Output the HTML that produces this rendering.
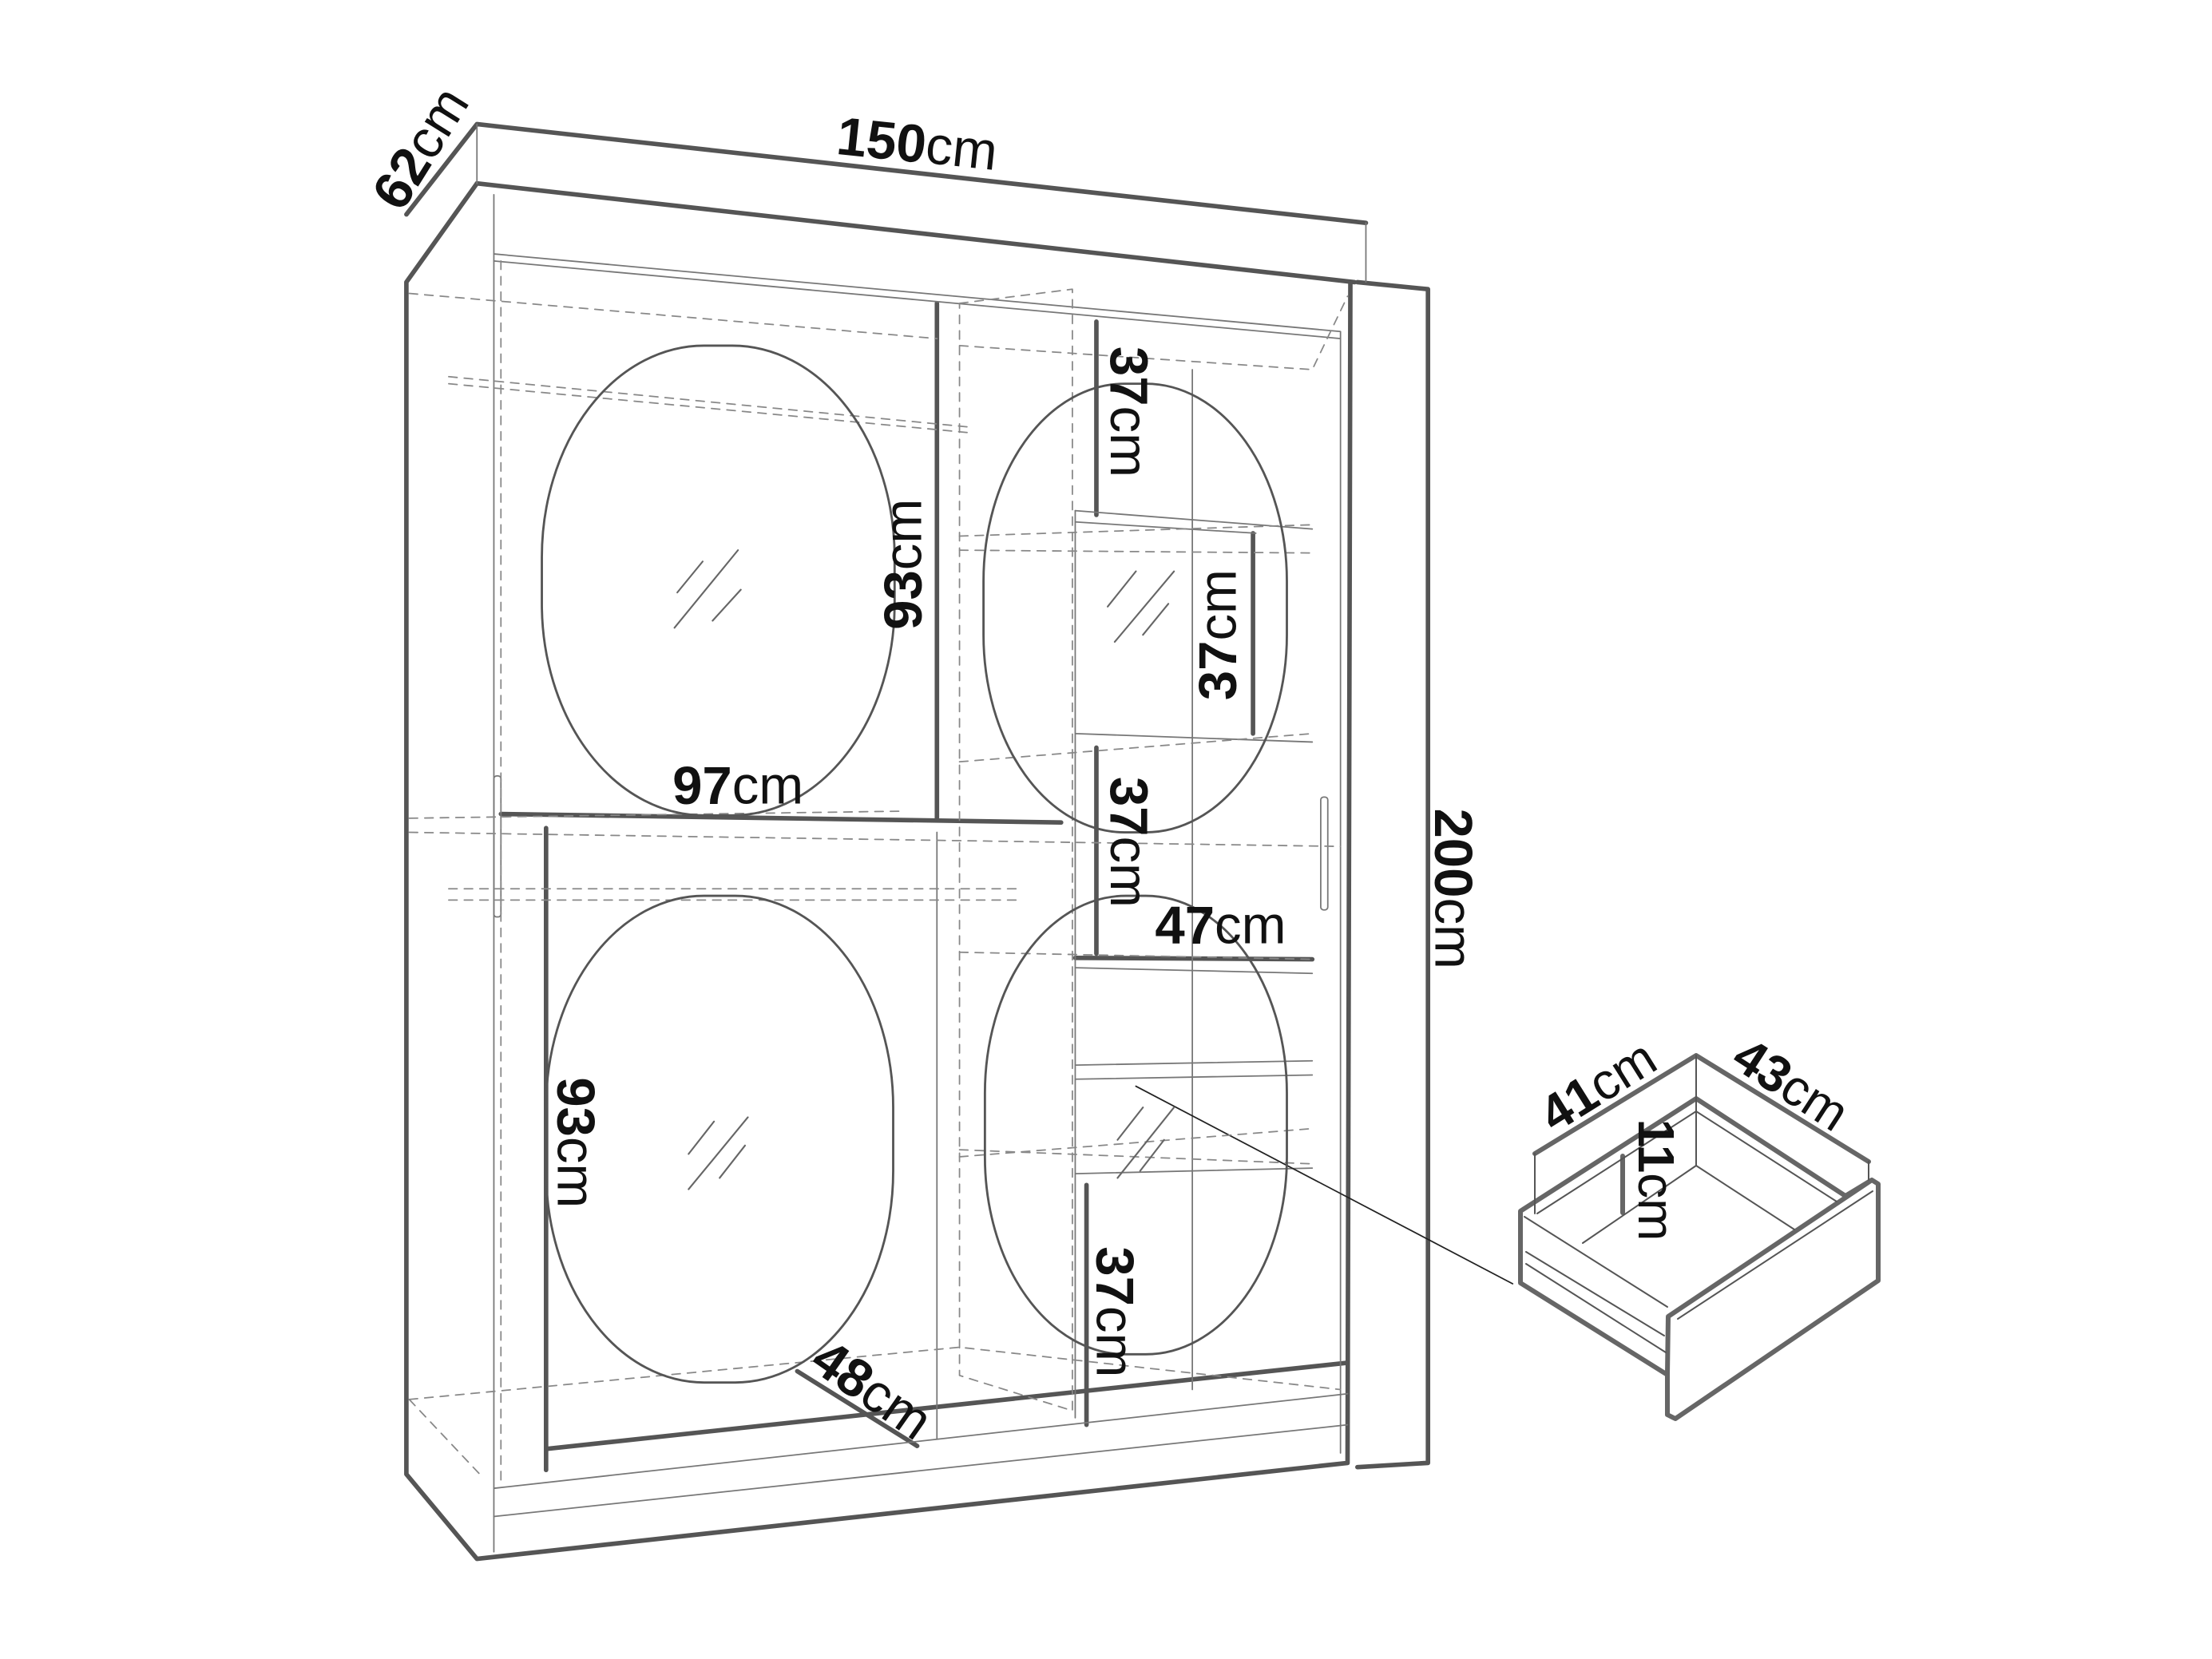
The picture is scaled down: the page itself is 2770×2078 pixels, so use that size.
<!DOCTYPE html>
<html><head><meta charset="utf-8"><style>
html,body{margin:0;padding:0;background:#fff}
svg{display:block}
text{font-family:"Liberation Sans",sans-serif;fill:#111}
.b{font-weight:bold}
</style></head><body>
<svg width="2770" height="2078" viewBox="0 0 2770 2078" xmlns="http://www.w3.org/2000/svg">
<g transform="scale(1.767)" fill="none" stroke-linecap="round" stroke-linejoin="round">
<g stroke="#555" stroke-width="3.2">
<polyline points="288,152 338,88 968,158"/>
<polyline points="338,130 960,200"/>
<polyline points="338,130 288,200 288,1045 338,1105 955,1037 957,200"/>
<polyline points="962,200 1012,205 1012,1037 962,1040"/>
<line x1="664" y1="215" x2="664" y2="580"/>
<line x1="355" y1="577" x2="752" y2="583"/>
<line x1="777" y1="228" x2="777" y2="365"/>
<line x1="888" y1="378" x2="888" y2="520"/>
<line x1="777" y1="530" x2="777" y2="676"/>
<line x1="762" y1="679" x2="930" y2="680"/>
<line x1="770" y1="840" x2="770" y2="1010"/>
<line x1="387" y1="587" x2="387" y2="1042"/>
<line x1="565" y1="972" x2="650" y2="1025"/>
<line x1="388" y1="1027" x2="955" y2="966"/>
</g>
<g stroke="#777" stroke-width="1">
<line x1="338" y1="88" x2="338" y2="130"/>
<line x1="968" y1="158" x2="968" y2="200"/>
<line x1="350" y1="138" x2="350" y2="1100"/>
<polyline points="350,180 950,235 950,1030"/>
<line x1="350" y1="185" x2="950" y2="240"/>
<line x1="350" y1="1055" x2="955" y2="988"/>
<line x1="350" y1="1075" x2="955" y2="1010"/>
<line x1="762" y1="362" x2="930" y2="375"/>
<line x1="762" y1="370" x2="890" y2="378"/>
<line x1="762" y1="520" x2="930" y2="526"/>
<line x1="762" y1="686" x2="930" y2="690"/>
<line x1="762" y1="755" x2="930" y2="752"/>
<line x1="762" y1="765" x2="930" y2="762"/>
<line x1="762" y1="832" x2="930" y2="828"/>
<line x1="762" y1="362" x2="762" y2="1005"/>
<line x1="845" y1="262" x2="845" y2="985"/>
<line x1="664" y1="590" x2="664" y2="1020"/>
<rect x="350" y="550" width="5" height="100" rx="2"/>
<rect x="936" y="565" width="5" height="80" rx="2"/>
<line x1="805" y1="770" x2="1072" y2="910" stroke="#222"/>
</g>
<g stroke="#888" stroke-width="1" stroke-dasharray="6,5">
<polyline points="290,208 664,240"/>
<polyline points="680,215 760,205 760,1000 680,975 680,215"/>
<polyline points="680,245 930,262 955,210"/>
<line x1="318" y1="267" x2="690" y2="303"/>
<line x1="318" y1="272" x2="690" y2="307"/>
<line x1="290" y1="590" x2="950" y2="600"/>
<line x1="290" y1="580" x2="640" y2="575"/>
<line x1="318" y1="630" x2="720" y2="630"/>
<line x1="318" y1="638" x2="720" y2="638"/>
<line x1="680" y1="380" x2="930" y2="372"/>
<line x1="680" y1="390" x2="930" y2="392"/>
<line x1="680" y1="540" x2="930" y2="520"/>
<line x1="680" y1="675" x2="930" y2="680"/>
<line x1="680" y1="815" x2="930" y2="825"/>
<line x1="680" y1="820" x2="930" y2="800"/>
<polyline points="290,992 680,955 950,985"/>
<line x1="290" y1="992" x2="340" y2="1045"/>
<line x1="355" y1="185" x2="355" y2="1050"/>
</g>
<g stroke="#555" stroke-width="1.6">
<rect x="384" y="245" width="250" height="333" rx="115" ry="150"/>
<rect x="697" y="272" width="215" height="318" rx="100" ry="140"/>
<rect x="387" y="635" width="246" height="345" rx="112" ry="150"/>
<rect x="698" y="635" width="214" height="325" rx="100" ry="140"/>
</g>
<g stroke="#666" stroke-width="1.2">
<line x1="480" y1="420" x2="498" y2="398"/><line x1="478" y1="445" x2="523" y2="390"/><line x1="505" y1="440" x2="525" y2="418"/>
<line x1="785" y1="430" x2="805" y2="405"/><line x1="790" y1="455" x2="832" y2="405"/><line x1="810" y1="450" x2="828" y2="428"/>
<line x1="488" y1="818" x2="506" y2="795"/><line x1="488" y1="843" x2="530" y2="792"/><line x1="510" y1="835" x2="528" y2="812"/>
<line x1="792" y1="808" x2="810" y2="785"/><line x1="792" y1="835" x2="832" y2="785"/><line x1="808" y1="830" x2="825" y2="808"/>
</g>
<g font-size="38">
<text transform="translate(298,105) rotate(-58)" text-anchor="middle" dominant-baseline="central"><tspan class="b">62</tspan>cm</text>
<text transform="translate(650,102) rotate(6)" text-anchor="middle" dominant-baseline="central"><tspan class="b">150</tspan>cm</text>
<text transform="translate(640,400) rotate(-90)" text-anchor="middle" dominant-baseline="central"><tspan class="b">93</tspan>cm</text>
<text transform="translate(800,292) rotate(90)" text-anchor="middle" dominant-baseline="central"><tspan class="b">37</tspan>cm</text>
<text transform="translate(863,450) rotate(-90)" text-anchor="middle" dominant-baseline="central"><tspan class="b">37</tspan>cm</text>
<text transform="translate(800,597) rotate(90)" text-anchor="middle" dominant-baseline="central"><tspan class="b">37</tspan>cm</text>
<text x="865" y="656" text-anchor="middle" dominant-baseline="central"><tspan class="b">47</tspan>cm</text>
<text x="523" y="557" text-anchor="middle" dominant-baseline="central"><tspan class="b">97</tspan>cm</text>
<text transform="translate(408,810) rotate(90)" text-anchor="middle" dominant-baseline="central"><tspan class="b">93</tspan>cm</text>
<text transform="translate(790,930) rotate(90)" text-anchor="middle" dominant-baseline="central"><tspan class="b">37</tspan>cm</text>
<text transform="translate(618,985) rotate(35)" text-anchor="middle" dominant-baseline="central"><tspan class="b">48</tspan>cm</text>
<text transform="translate(1030,630) rotate(90)" text-anchor="middle" dominant-baseline="central"><tspan class="b">200</tspan>cm</text>
</g>
</g>
<g fill="none" stroke-linecap="round" stroke-linejoin="round">
<g stroke="#666" stroke-width="6">
<polyline points="1922,1445 2124,1322 2340,1455"/>
<polyline points="2344,1478 2311,1498 2124,1376 1904,1517 1904,1607 2088,1722 2088,1772 2098,1777 2352,1604 2352,1483 2344,1478 2089,1649 2088,1722"/>
<line x1="2032" y1="1448" x2="2032" y2="1519"/>
</g>
<g stroke="#555" stroke-width="2">
<line x1="1922" y1="1445" x2="1922" y2="1520"/>
<line x1="2340" y1="1455" x2="2340" y2="1478"/>
<line x1="2124" y1="1322" x2="2124" y2="1460"/>
<polyline points="1982,1557 2124,1460 2247,1540"/>
<line x1="1909" y1="1524" x2="2088" y2="1637"/>
<line x1="1911" y1="1568" x2="2084" y2="1673"/>
<line x1="1911" y1="1583" x2="2086" y2="1694"/>
<line x1="2101" y1="1652" x2="2345" y2="1492"/>
<line x1="1925" y1="1520" x2="2124" y2="1392"/>
<line x1="2124" y1="1392" x2="2300" y2="1505"/>
</g>
<g font-size="64">
<text transform="translate(2001,1360) rotate(-32)" text-anchor="middle" dominant-baseline="central"><tspan class="b">41</tspan>cm</text>
<text transform="translate(2243,1358) rotate(33)" text-anchor="middle" dominant-baseline="central"><tspan class="b">43</tspan>cm</text>
<text transform="translate(2074,1478) rotate(90)" text-anchor="middle" dominant-baseline="central"><tspan class="b">11</tspan>cm</text>
</g>
</g>
</svg>
</body></html>
